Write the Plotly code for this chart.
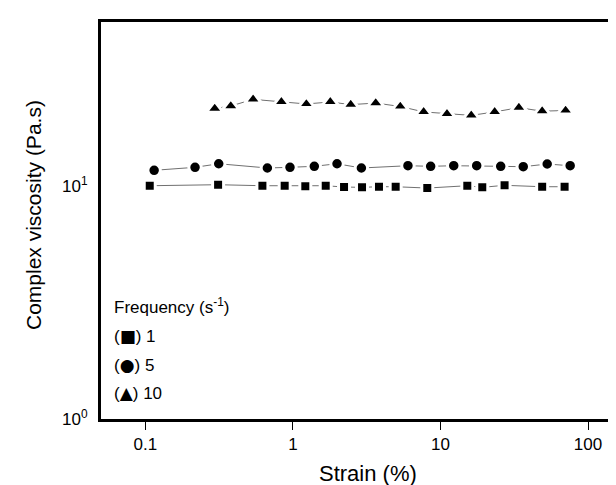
import plotly.graph_objects as go

# ---- data ----
strain_1 = [0.107, 0.311, 0.621, 0.879, 1.213, 1.668, 2.22, 2.94, 3.83, 4.97, 8.14, 15.2, 19.2, 27.2, 48.9, 69.4]
visc_1 = [10.03, 10.13, 10.03, 10.03, 9.97, 10.03, 9.90, 9.87, 9.93, 9.93, 9.80, 10.03, 9.87, 10.07, 9.93, 9.93]

strain_5 = [0.1146, 0.217, 0.314, 0.671, 0.955, 1.396, 1.99, 2.91, 6.02, 8.58, 12.3, 17.6, 25.6, 36.4, 52.9, 75.7]
visc_5 = [11.68, 12.03, 12.46, 11.95, 12.03, 12.15, 12.46, 11.95, 12.22, 12.15, 12.22, 12.22, 12.15, 12.10, 12.43, 12.22]

strain_10 = [0.295, 0.379, 0.537, 0.835, 1.233, 1.792, 2.465, 3.64, 5.34, 7.69, 11.07, 16.17, 23.3, 34.0, 48.9, 70.5]
visc_10 = [21.5, 22.05, 23.55, 22.95, 22.5, 22.95, 22.35, 22.7, 21.95, 20.8, 20.4, 20.1, 20.8, 21.7, 20.95, 21.1]

x_tickvals = [0.1, 1, 10, 100]
x_ticktext = ["0.1", "1", "10", "100"]
y_tickvals = [1, 10]
y_ticktext = ["10<sup>0</sup>", "10<sup>1</sup>"]

legend_title = "Frequency (s<sup>-1</sup>)"
legend_symbols = ["\u25A0", "\u25CF", "\u25B2"]
legend_labels = ["1", "5", "10"]

FONT = "Liberation Sans, Arial, sans-serif"
W, H = 616, 485
L, R, T, B = 93, 0, 14, 74

fig = go.Figure()
series = [
    (strain_1, visc_1, "square", 11),
    (strain_5, visc_5, "circle", 12.5),
    (strain_10, visc_10, "triangle-up", 14.5),
]
for xs, ys, sym, sz in series:
    fig.add_trace(go.Scatter(
        x=xs, y=ys, mode="lines+markers",
        line=dict(color="#707070", width=1),
        marker=dict(symbol=sym, size=sz, color="black",
                    line=dict(color="white", width=3)),
        showlegend=False,
    ))

fig.update_layout(
    width=W, height=H,
    margin=dict(l=L, r=R, t=T, b=B, pad=0),
    paper_bgcolor="white", plot_bgcolor="white",
    font=dict(family=FONT, size=17, color="black"),
    showlegend=False,
)
fig.update_xaxes(
    type="log", range=[-1.301, 2.244],
    tickvals=x_tickvals, ticktext=x_ticktext,
    ticks="outside", ticklen=8, tickwidth=1, tickcolor="black",
    showline=True, linewidth=3, linecolor="black", mirror=True,
    showgrid=False, zeroline=False,
    tickfont=dict(size=17),
)
fig.update_yaxes(
    type="log", range=[0, 1.704],
    tickvals=y_tickvals, ticktext=y_ticktext,
    ticks="", ticklabelstandoff=7,
    showline=True, linewidth=3, linecolor="black", mirror=False,
    showgrid=False, zeroline=False,
    tickfont=dict(size=17),
)

def px_x(px):
    return (px - L) / (W - L - R)

def px_y(py):
    return (H - B - py) / (H - B - T)

annotations = [
    dict(text="Strain (%)", x=px_x(360), y=px_y(465), xref="paper", yref="paper",
         showarrow=False, xanchor="center", yanchor="middle", font=dict(size=22)),
    dict(text="Complex viscosity (Pa.s)", x=px_x(25), y=px_y(207), xref="paper", yref="paper",
         showarrow=False, xanchor="center", yanchor="middle", textangle=-90, font=dict(size=21)),
    dict(text=legend_title, x=px_x(104), y=px_y(298), xref="paper", yref="paper",
         showarrow=False, xanchor="left", yanchor="middle", font=dict(size=17)),
]
for i, (sym, lab) in enumerate(zip(legend_symbols, legend_labels)):
    txt = ('(<span style="font-family:\'DejaVu Sans\';font-size:17px">' + sym
           + '</span>) ' + lab)
    annotations.append(dict(text=txt, x=px_x(104), y=px_y(328 + i * 28.7),
                            xref="paper", yref="paper", showarrow=False,
                            xanchor="left", yanchor="middle", font=dict(size=17)))
fig.update_layout(annotations=annotations)

fig.write_html("out.html")
